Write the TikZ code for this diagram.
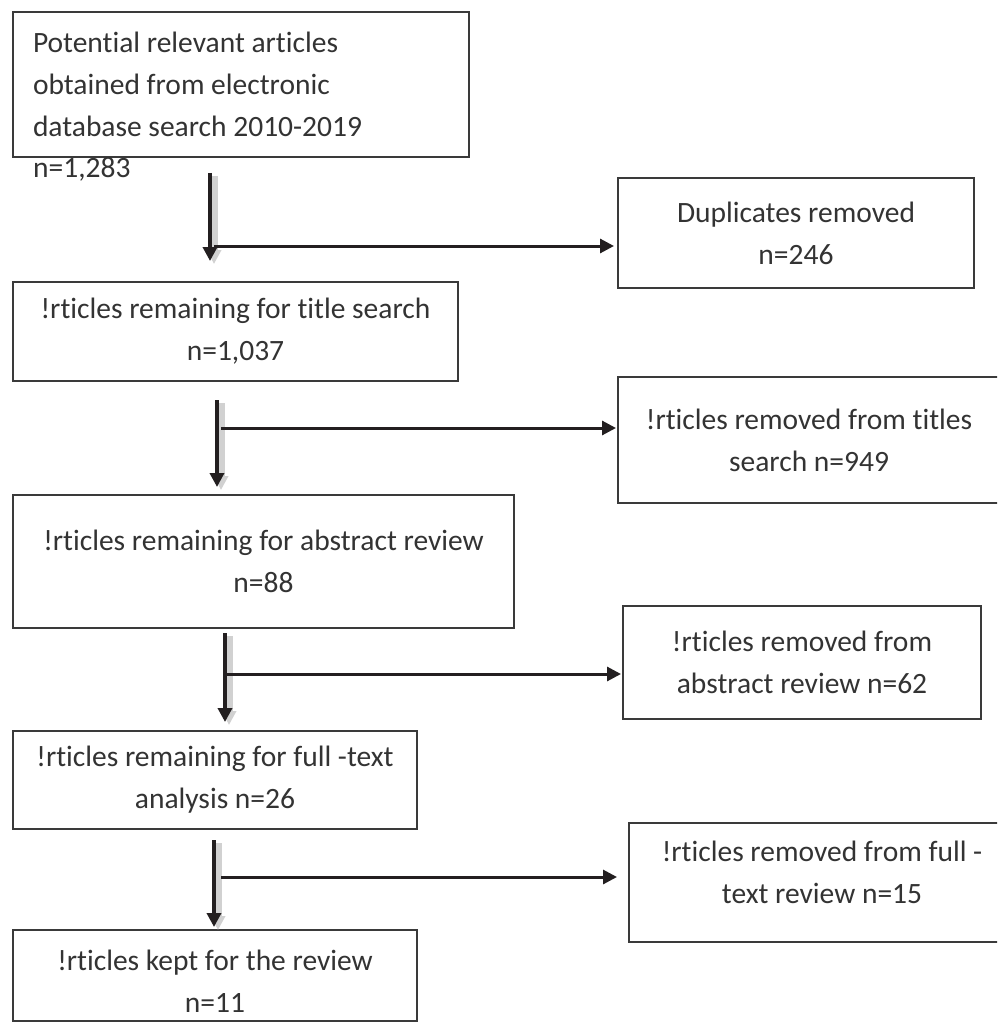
\documentclass[tikz,border=0pt]{standalone}
\usepackage{fontspec}
\setmainfont{Carlito}[RawFeature={-liga;-clig}]
\usetikzlibrary{arrows.meta}
\definecolor{boxline}{HTML}{3A3A3A}
\definecolor{txtc}{HTML}{333333}
\definecolor{arrowc}{HTML}{231F20}
\begin{document}
\begin{tikzpicture}[x=1pt,y=-1pt,
  lbl/.style={inner sep=0pt, text=txtc, align=center, font=\fontsize{29.5}{42}\selectfont},
  box/.style={lbl, draw=boxline, line width=2pt},
  varrow/.style={draw=arrowc, line width=3.5pt, -{Triangle[length=14pt,width=14pt]},
    preaction={draw=black!18, line width=7pt, transform canvas={xshift=4pt,yshift=-3pt}}},
  harrow/.style={draw=arrowc, line width=3pt, -{Triangle[length=14pt,width=14pt]}}]
\useasboundingbox (0,0) rectangle (997,1024);
\clip (0,0) rectangle (997,1024);
\fill[white] (0,0) rectangle (997,1024);

% left column
\node[box, minimum width=456pt, minimum height=145pt, text width=416pt, align=flush left] (A) at (241,84.5)
  {Potential relevant articles\\obtained from electronic\\database search 2010-2019};
\node[lbl, anchor=base west] (An) at (33,178) {n=1,283};
\node[box, minimum width=445pt, minimum height=99pt] (B) at (235.5,331.5)
  {!rticles remaining for title search\\n=1,037};
\node[box, minimum width=501pt, minimum height=133pt] (C) at (263.5,561.5)
  {!rticles remaining for abstract review\\n=88};
\node[box, minimum width=404pt, minimum height=98pt] (D) at (215,780)
  {!rticles remaining for full -text\\analysis n=26};
\node[box, minimum width=404pt, minimum height=91pt] (E) at (215,975.5) {};
\node[lbl] (Et) at (215,981) {!rticles kept for the review\\n=11};

% right column
\node[box, minimum width=356pt, minimum height=110pt] (R1) at (796,233)
  {Duplicates removed\\n=246};
\node[box, minimum width=382pt, minimum height=126pt] (R2) at (809,440)
  {!rticles removed from titles\\search n=949};
\node[box, minimum width=358pt, minimum height=113pt] (R3) at (802,662.5)
  {!rticles removed from\\abstract review n=62};
\node[box, minimum width=386pt, minimum height=119pt] (R4) at (822,882.5) {};
\node[lbl] (R4t) at (822,872.5) {!rticles removed from full -\\text review n=15};

% connector start points
\coordinate (v1) at (210,173);
\coordinate (h1) at (214,246);
\coordinate (v2) at (217,400);
\coordinate (h2) at (221,428);
\coordinate (v3) at (225,633);
\coordinate (h3) at (227,674);
\coordinate (v4) at (214,840);
\coordinate (h4) at (221,877);

\draw[varrow, shorten >=20pt] (v1) -- (v1 |- B.north);
\draw[harrow, shorten >=3pt] (h1) -- (h1 -| R1.west);
\draw[varrow, shorten >=7pt] (v2) -- (v2 |- C.north);
\draw[harrow, shorten >=1pt] (h2) -- (h2 -| R2.west);
\draw[varrow, shorten >=8pt] (v3) -- (v3 |- D.north);
\draw[harrow, shorten >=1pt] (h3) -- (h3 -| R3.west);
\draw[varrow, shorten >=2pt] (v4) -- (v4 |- E.north);
\draw[harrow, shorten >=11pt] (h4) -- (h4 -| R4.west);
\end{tikzpicture}
\end{document}
